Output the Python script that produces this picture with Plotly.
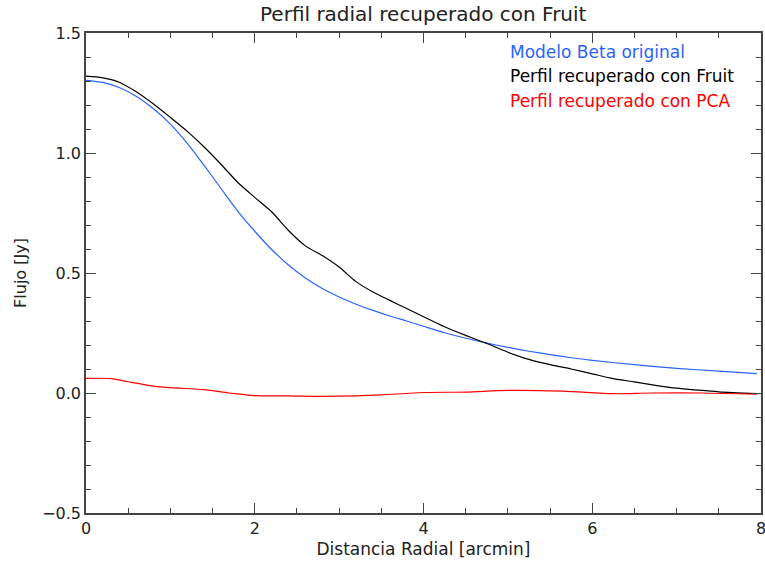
import plotly.graph_objects as go

# Radial profiles (radius in arcmin, flux in Jy)
r_beta = [0.0, 0.2, 0.4, 0.6, 0.8, 1.0, 1.2, 1.4, 1.6, 1.8, 2.0, 2.2, 2.4, 2.6, 2.8,
          3.0, 3.2, 3.4, 3.6, 3.8, 4.0, 4.25, 4.5, 4.75, 5.0, 5.25, 5.5, 5.75, 6.0,
          6.5, 7.0, 7.5, 7.95]
flux_beta = [1.303, 1.294, 1.272, 1.235, 1.184, 1.120, 1.040, 0.948, 0.852, 0.757,
             0.674, 0.598, 0.533, 0.479, 0.435, 0.400, 0.370, 0.344, 0.321, 0.300,
             0.278, 0.251, 0.228, 0.208, 0.190, 0.174, 0.160, 0.147, 0.136,
             0.118, 0.103, 0.091, 0.081]

r_fruit = [0.0, 0.2, 0.4, 0.6, 0.8, 1.0, 1.2, 1.4, 1.6, 1.8, 2.0, 2.2, 2.4, 2.6, 2.8,
           3.0, 3.2, 3.4, 3.6, 3.8, 4.0, 4.25, 4.5, 4.75, 5.0, 5.25, 5.5, 5.75, 6.0,
           6.25, 6.5, 6.75, 7.0, 7.25, 7.5, 7.95]
flux_fruit = [1.320, 1.313, 1.294, 1.254, 1.204, 1.148, 1.090, 1.025, 0.953, 0.877,
              0.815, 0.755, 0.677, 0.613, 0.573, 0.525, 0.464, 0.421, 0.386, 0.352,
              0.318, 0.276, 0.240, 0.206, 0.170, 0.140, 0.118, 0.100, 0.080,
              0.060, 0.046, 0.032, 0.020, 0.012, 0.005, -0.003]

r_pca = [0.0, 0.3, 0.5, 0.8, 1.0, 1.4, 1.7, 2.0, 2.4, 2.8, 3.2, 3.5, 4.0, 4.5, 5.0,
         5.65, 6.25, 6.7, 7.3, 7.95]
flux_pca = [0.061, 0.060, 0.047, 0.029, 0.022, 0.014, 0.000, -0.011, -0.012, -0.014,
            -0.012, -0.008, 0.002, 0.004, 0.011, 0.008, -0.003, 0.000, 0.000, -0.005]

labels = ["Modelo Beta original", "Perfil recuperado con Fruit", "Perfil recuperado con PCA"]
colors = ["#2a63ff", "#000000", "#ff0000"]

FONT = "DejaVu Sans"
AX = "#444444"
TXT = "#222222"

fig = go.Figure()
for xs, ys, name, c in zip([r_beta, r_fruit, r_pca], [flux_beta, flux_fruit, flux_pca],
                           labels, colors):
    fig.add_trace(go.Scatter(x=xs, y=ys, mode="lines", name=name,
                             line=dict(color=c, width=1.2, shape="spline", smoothing=0.8)))

axis_common = dict(
    showgrid=False, zeroline=False, showline=True, linecolor=AX, linewidth=1.5,
    mirror="ticks", ticks="inside", tickcolor=AX, tickwidth=1.3, ticklen=10,
    tickfont=dict(family=FONT, size=16, color=TXT), automargin=False,
    ticklabeloverflow="allow",
)

fig.update_xaxes(range=[0, 8], dtick=2, tick0=0,
                 minor=dict(dtick=0.5, ticks="inside", ticklen=5, tickcolor=AX, tickwidth=1.3),
                 title=dict(text="Distancia Radial [arcmin]", standoff=6,
                            font=dict(family=FONT, size=17, color=TXT)),
                 **axis_common)
fig.update_yaxes(range=[-0.5, 1.5], dtick=0.5, tick0=0, tickformat=".1f",
                 minor=dict(dtick=0.1, ticks="inside", ticklen=5, tickcolor=AX, tickwidth=1.3),
                 title=dict(text="Flujo [Jy]", standoff=12,
                            font=dict(family=FONT, size=16, color=TXT)),
                 **axis_common)

# Title and in-plot legend labels
fig.add_annotation(text="Perfil radial recuperado con Fruit", xref="paper", yref="paper",
                   x=0.5, y=1.04, xanchor="center", yanchor="middle", showarrow=False,
                   font=dict(family=FONT, size=20, color=TXT))
for i, (lab, c) in enumerate(zip(labels, colors)):
    fig.add_annotation(text=lab, xref="paper", yref="paper", x=0.625, y=0.960 - i * 0.0505,
                       xanchor="left", yanchor="middle", showarrow=False,
                       font=dict(family=FONT, size=17, color=c))

fig.update_layout(
    width=765, height=564, showlegend=False,
    margin=dict(l=86, r=4, t=33, b=51),
    plot_bgcolor="white", paper_bgcolor="white",
)

fig.write_html("out.html")
